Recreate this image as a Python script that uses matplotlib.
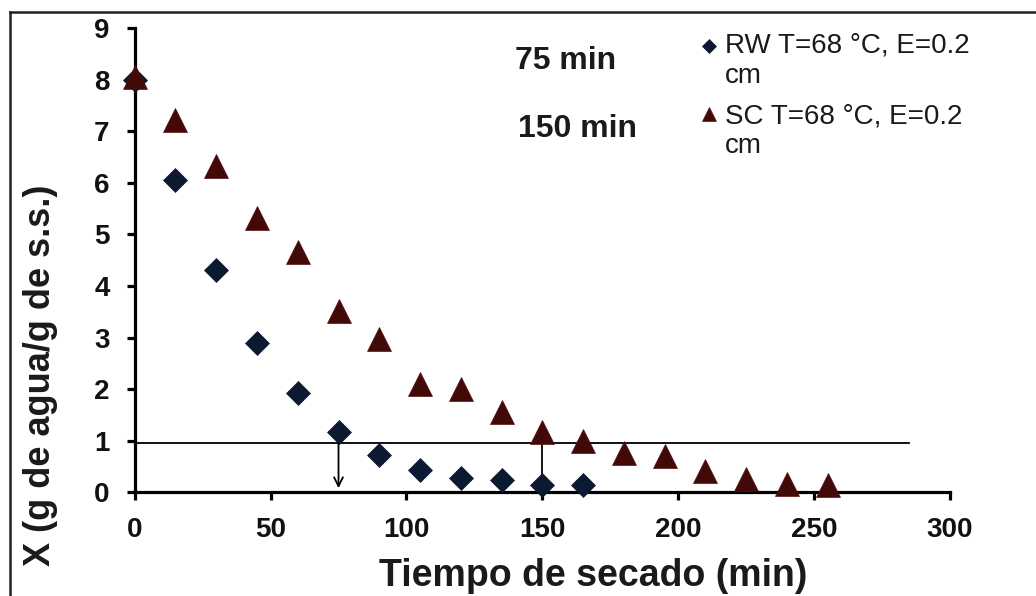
import numpy as np
import matplotlib
matplotlib.use("Agg")
import matplotlib.pyplot as plt
from matplotlib.lines import Line2D

plt.rcParams['font.family'] = ['Liberation Sans', 'DejaVu Sans']

# curvas de secado: contenido de humedad vs tiempo
t_rw = [0, 15, 30, 45, 60, 75, 90, 105, 120, 135, 150, 165]
x_rw = [8.0, 6.06, 4.31, 2.89, 1.92, 1.17, 0.72, 0.43, 0.27, 0.23, 0.14, 0.14]

t_sc = [0, 15, 30, 45, 60, 75, 90, 105, 120, 135, 150, 165, 180, 195, 210, 225, 240, 255]
x_sc = [8.05, 7.22, 6.33, 5.32, 4.65, 3.51, 2.97, 2.1, 2.0, 1.56, 1.17, 0.99, 0.76, 0.70,
        0.41, 0.26, 0.16, 0.15]

lab_rw = "RW T=68 °C, E=0.2\ncm"
lab_sc = "SC T=68 °C, E=0.2\ncm"

x_umbral = 0.95        # humedad de referencia
t_fin_umbral = 285
t_cruce = [75, 150]    # tiempos en que cada curva cruza el umbral
txt_cruce = ["75 min", "150 min"]

estilo_rw = dict(marker='D', color='#0b1a30', mec='#0b1a30', mew=0.5)
estilo_sc = dict(marker='^', color='#420909', mec='#5a1010', mew=0.5)

fig = plt.figure(figsize=(10.36, 5.96), dpi=100)
ax = fig.add_axes([0.130, 0.174, 0.787, 0.779])

# marco exterior (solo izquierda y arriba)
fig.add_artist(Line2D([10/1036, 10/1036], [0, 1 - 12/596], transform=fig.transFigure,
                      color='#222222', lw=1.8))
fig.add_artist(Line2D([10/1036, 1], [1 - 12/596, 1 - 12/596], transform=fig.transFigure,
                      color='#222222', lw=1.8))

ax.plot(t_rw, x_rw, ls='none', ms=12.5, clip_on=False, zorder=3, **estilo_rw)
ax.plot(t_sc, x_sc, ls='none', ms=17, clip_on=False, zorder=3, **estilo_sc)

ax.plot([0, t_fin_umbral], [x_umbral, x_umbral], color='black', lw=1.3, zorder=2)
ax.annotate('', xy=(t_cruce[0], 0.08), xytext=(t_cruce[0], x_umbral),
            arrowprops=dict(arrowstyle='->', lw=1.3, color='black',
                            shrinkA=0, shrinkB=0, mutation_scale=16))
ax.plot([t_cruce[1], t_cruce[1]], [0, x_umbral], color='black', lw=1.3, zorder=2)

ax.text(140, 8.37, txt_cruce[0], fontsize=23, fontweight='bold', va='center', ha='left',
        color='#1a1a1a')
ax.text(141, 7.05, txt_cruce[1], fontsize=23, fontweight='bold', va='center', ha='left',
        color='#1a1a1a')

# leyenda a mano: marcador alineado con la primera línea del texto
for (ym, yt, lab, est, ms) in [(0.962, 0.990, lab_rw, estilo_rw, 7),
                               (0.815, 0.838, lab_sc, estilo_sc, 10)]:
    ax.plot([0.704], [ym], transform=ax.transAxes, ls='none', ms=ms, clip_on=False, **est)
    ax.text(0.724, yt, lab, transform=ax.transAxes, fontsize=20, va='top', ha='left',
            linespacing=1.2, color='#1a1a1a')

ax.set_xlim(0, 300)
ax.set_ylim(0, 9)
ax.set_xticks(np.arange(0, 301, 50))
ax.set_yticks(np.arange(0, 10, 1))

for s in ['top', 'right']:
    ax.spines[s].set_visible(False)
for s in ['left', 'bottom']:
    ax.spines[s].set_linewidth(2.3)

ax.tick_params(axis='both', direction='out', length=6, width=2.3, labelsize=20)
ax.tick_params(axis='y', pad=12)
ax.tick_params(axis='x', pad=12)
for lbl in ax.get_xticklabels() + ax.get_yticklabels():
    lbl.set_fontweight('bold')
    lbl.set_color('#111111')

ax.set_xlabel('Tiempo de secado (min)', fontsize=27, fontweight='bold', color='#1a1a1a')
ax.xaxis.set_label_coords(0.562, -0.142)
ax.set_ylabel('X (g de agua/g de s.s.)', fontsize=26, fontweight='bold', color='#1a1a1a')
ax.yaxis.set_label_coords(-0.094, 0.252)

fig.savefig('out.png', dpi=100)
